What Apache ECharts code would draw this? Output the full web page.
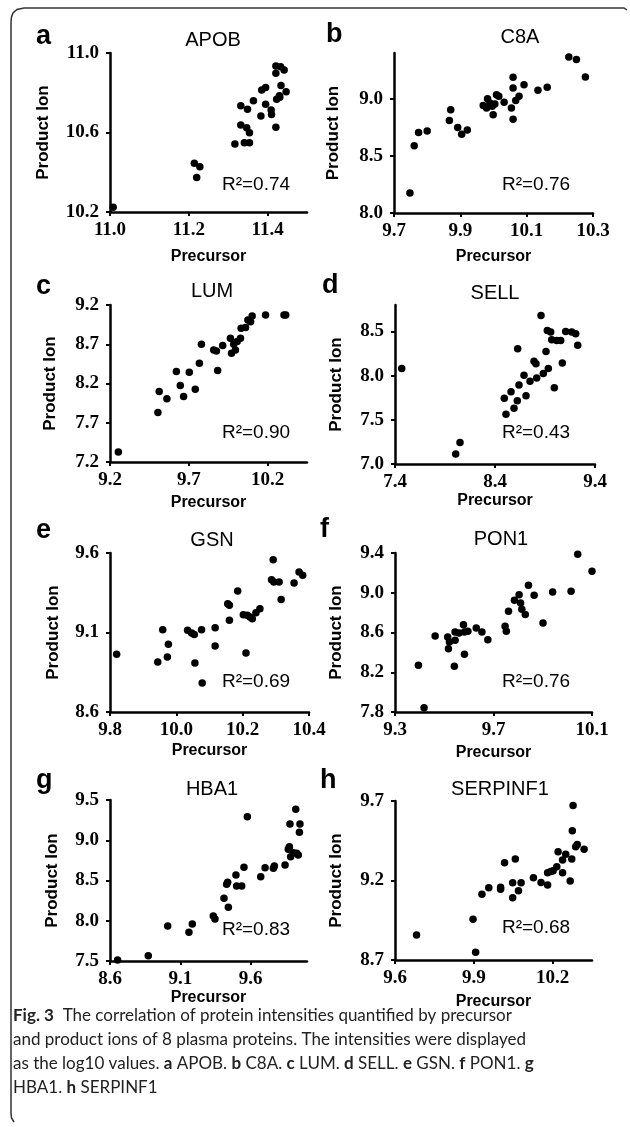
<!DOCTYPE html>
<html>
<head>
    <meta http-equiv="Content-Type" content="text/html; charset=utf-8"/>
    <script src="https://cdn.jsdelivr.net/npm/echarts@6/dist/echarts.min.js"></script>
    <style>
        html, body {margin: 0; padding: 0; background: #fff;}
        #main {width: 630px; height: 1127px;}
    </style>
</head>
<body>
<div id="main"></div>
<script type="text/javascript">

    // protein names, panel letters and R2 labels
    var proteins = ['APOB', 'C8A', 'LUM', 'SELL', 'GSN', 'PON1', 'HBA1', 'SERPINF1'];
    var letters = ['a', 'b', 'c', 'd', 'e', 'f', 'g', 'h'];
    var r2 = ['0.74', '0.76', '0.90', '0.43', '0.69', '0.76', '0.83', '0.68'];

    // [precursor, product ion] (log10 intensities)
    var apobPoints = [[11.008, 10.224], [11.214, 10.445], [11.228, 10.428], [11.220, 10.374], [11.317, 10.542],
        [11.341, 10.549], [11.354, 10.549], [11.332, 10.638], [11.347, 10.624], [11.332, 10.734], [11.349, 10.717],
        [11.364, 10.760], [11.354, 10.599], [11.383, 10.683], [11.395, 10.742], [11.385, 10.814], [11.395, 10.827],
        [11.409, 10.713], [11.410, 10.691], [11.421, 10.626], [11.423, 10.767], [11.431, 10.777], [11.434, 10.836],
        [11.447, 10.805], [11.421, 10.898], [11.421, 10.935], [11.433, 10.931], [11.442, 10.914], [11.430, 10.785]];
    var c8aPoints = [[9.748, 8.176], [9.761, 8.589], [9.774, 8.704], [9.800, 8.718], [9.867, 8.809], [9.871, 8.903],
        [9.892, 8.748], [9.904, 8.689], [9.921, 8.727], [9.969, 8.941], [9.982, 9.000], [9.979, 8.918], [9.989, 8.962],
        [9.996, 8.933], [9.999, 8.859], [10.004, 8.953], [10.009, 9.035], [10.016, 9.021], [10.032, 8.968],
        [10.054, 8.918], [10.059, 9.188], [10.059, 9.094], [10.059, 8.821], [10.067, 8.985], [10.077, 9.021],
        [10.092, 9.123], [10.134, 9.073], [10.162, 9.100], [10.227, 9.364], [10.250, 9.343], [10.277, 9.191]];
    var lumPoints = [[9.253, 7.327], [9.504, 7.831], [9.512, 8.098], [9.561, 8.005], [9.621, 8.353], [9.646, 8.175],
        [9.667, 8.035], [9.703, 8.344], [9.741, 8.128], [9.767, 8.458], [9.780, 8.700], [9.858, 8.628], [9.875, 8.615],
        [9.883, 8.365], [9.915, 8.683], [9.964, 8.776], [9.971, 8.586], [9.996, 8.628], [10.007, 8.734],
        [10.028, 8.776], [10.032, 8.903], [10.060, 8.912], [10.075, 9.009], [10.092, 8.988], [10.102, 9.060],
        [10.187, 9.073], [10.304, 9.073], [10.315, 9.073], [9.985, 8.700]];
    var sellPoints = [[7.467, 8.080], [8.007, 7.113], [8.050, 7.244], [8.493, 7.743], [8.510, 7.563], [8.560, 7.818],
        [8.590, 7.630], [8.623, 7.716], [8.627, 8.305], [8.640, 7.893], [8.690, 8.005], [8.710, 7.773], [8.750, 7.938],
        [8.790, 8.163], [8.810, 8.136], [8.817, 7.975], [8.860, 8.680], [8.883, 8.024], [8.910, 8.275], [8.923, 8.511],
        [8.933, 8.080], [8.957, 8.493], [8.967, 8.406], [8.993, 7.863], [9.017, 8.399], [9.057, 8.399], [9.073, 8.144],
        [9.107, 8.500], [9.167, 8.493], [9.207, 8.474], [9.227, 8.343]];
    var gsnPoints = [[9.820, 8.963], [9.944, 8.914], [9.959, 9.118], [9.973, 8.946], [9.976, 9.026], [10.034, 9.114],
        [10.046, 9.097], [10.054, 9.088], [10.056, 8.908], [10.076, 9.118], [10.078, 8.782], [10.117, 9.130],
        [10.117, 9.015], [10.155, 9.281], [10.160, 9.271], [10.160, 9.177], [10.185, 9.361], [10.202, 9.212],
        [10.210, 8.971], [10.214, 9.208], [10.222, 9.197], [10.229, 9.187], [10.240, 9.225], [10.252, 9.250],
        [10.292, 9.558], [10.287, 9.432], [10.294, 9.418], [10.310, 9.418], [10.316, 9.307], [10.355, 9.411],
        [10.370, 9.481], [10.381, 9.460]];
    var pon1Points = [[9.395, 8.270], [9.418, 7.844], [9.463, 8.565], [9.514, 8.555], [9.517, 8.437], [9.521, 8.504],
        [9.541, 8.260], [9.544, 8.521], [9.544, 8.605], [9.560, 8.595], [9.578, 8.679], [9.582, 8.380], [9.582, 8.605],
        [9.596, 8.612], [9.630, 8.645], [9.653, 8.605], [9.677, 8.528], [9.747, 8.662], [9.752, 8.612], [9.761, 8.813],
        [9.785, 8.924], [9.804, 8.981], [9.810, 8.897], [9.815, 8.833], [9.829, 8.780], [9.842, 9.075], [9.865, 8.974],
        [9.901, 8.696], [9.940, 9.008], [10.015, 9.014], [10.042, 9.387], [10.100, 9.216]];
    var hba1Points = [[8.654, 7.512], [8.872, 7.566], [9.010, 7.935], [9.161, 7.856], [9.185, 7.960], [9.334, 8.059],
        [9.346, 8.022], [9.410, 8.278], [9.429, 8.452], [9.441, 8.167], [9.436, 8.477], [9.495, 8.568], [9.500, 8.432],
        [9.536, 8.432], [9.552, 8.664], [9.576, 9.293], [9.671, 8.548], [9.702, 8.659], [9.761, 8.651], [9.768, 8.680],
        [9.844, 8.692], [9.867, 8.887], [9.875, 8.920], [9.879, 9.202], [9.884, 8.796], [9.903, 8.846], [9.920, 9.384],
        [9.927, 8.837], [9.938, 8.817], [9.946, 9.098], [9.950, 9.202]];
    var serpinf1Points = [[9.682, 8.857], [9.897, 8.956], [9.907, 8.748], [9.931, 9.113], [9.957, 9.155],
        [10.002, 9.157], [10.002, 9.145], [10.017, 9.312], [10.048, 9.092], [10.048, 9.186], [10.058, 9.335],
        [10.070, 9.136], [10.080, 9.186], [10.127, 9.218], [10.156, 9.188], [10.181, 9.172], [10.181, 9.249],
        [10.193, 9.256], [10.202, 9.262], [10.216, 9.287], [10.221, 9.381], [10.238, 9.249], [10.238, 9.329],
        [10.250, 9.365], [10.267, 9.197], [10.273, 9.335], [10.275, 9.513], [10.278, 9.671], [10.288, 9.413],
        [10.294, 9.427], [10.320, 9.396]];

    // axis ranges and tick labels
    var xRanges = [[11.0, 11.5], [9.7, 10.3], [9.2, 10.45], [7.4, 9.4], [9.8, 10.4], [9.3, 10.1], [8.6, 10.0], [9.6, 10.35]];
    var yRanges = [[10.2, 11.0], [8.0, 9.4], [7.2, 9.2], [7.0, 8.8], [8.6, 9.6], [7.8, 9.4], [7.5, 9.5], [8.7, 9.7]];
    var xTicks = [[11.0, 11.2, 11.4], [9.7, 9.9, 10.1, 10.3], [9.2, 9.7, 10.2], [7.4, 8.4, 9.4],
        [9.8, 10.0, 10.2, 10.4], [9.3, 9.7, 10.1], [8.6, 9.1, 9.6], [9.6, 9.9, 10.2]];
    var yTicks = [[10.2, 10.6, 11.0], [8.0, 8.5, 9.0], [7.2, 7.7, 8.2, 8.7, 9.2], [7.0, 7.5, 8.0, 8.5],
        [8.6, 9.1, 9.6], [7.8, 8.2, 8.6, 9.0, 9.4], [7.5, 8.0, 8.5, 9.0, 9.5], [8.7, 9.2, 9.7]];

    var allPoints = [apobPoints, c8aPoints, lumPoints, sellPoints, gsnPoints, pon1Points, hba1Points, serpinf1Points];

    // panel placement (px): grid box, axis name gaps, title / letter / R2 text positions
    var boxes = [
        {left: 110, top: 53, width: 197, height: 159, gx: 37, gy: 58, title: [213, 40], letter: [36, 37], r: [256, 185]},
        {left: 394, top: 53, width: 199, height: 160, gx: 36, gy: 52, title: [520, 37], letter: [326, 35], r: [536, 185]},
        {left: 110, top: 305, width: 197, height: 157, gx: 33, gy: 51, title: [212, 291], letter: [36, 287], r: [256, 433]},
        {left: 395, top: 305, width: 200, height: 159, gx: 27, gy: 50, title: [495, 293], letter: [322, 286], r: [536, 433]},
        {left: 110, top: 553, width: 199, height: 159, gx: 31, gy: 48, title: [212, 540], letter: [36, 531], r: [256, 682]},
        {left: 395, top: 553, width: 197, height: 159, gx: 33, gy: 50, title: [501, 539], letter: [320, 530], r: [536, 682]},
        {left: 110, top: 800, width: 197, height: 161, gx: 22, gy: 49, title: [212, 789], letter: [36, 781], r: [256, 930]},
        {left: 395, top: 801, width: 197, height: 159, gx: 34, gy: 50, title: [500, 789], letter: [320, 781], r: [536, 928]}
    ];

    var tickFont = {fontFamily: 'Liberation Serif', fontWeight: 'bold', fontSize: 19, color: '#000'};
    var nameFont = {fontFamily: 'Liberation Sans', fontWeight: 'bold', fontSize: 16, color: '#000'};
    var fmt = function (v) { return Number(v).toFixed(1); };

    var grids = [], xAxes = [], yAxes = [], series = [], graphics = [];

    for (var i = 0; i < 8; i++) {
        var b = boxes[i];
        grids.push({left: b.left, top: b.top, width: b.width, height: b.height});

        xAxes.push({
            gridIndex: i, type: 'value', min: xRanges[i][0], max: xRanges[i][1],
            name: 'Precursor', nameLocation: 'middle', nameGap: b.gx, nameTextStyle: nameFont,
            axisLine: {show: true, onZero: false, lineStyle: {color: '#000', width: 2.5}},
            axisTick: {show: true, length: 4, lineStyle: {color: '#000', width: 2}, customValues: xTicks[i]},
            axisLabel: Object.assign({customValues: xTicks[i], formatter: fmt, margin: 9}, tickFont),
            splitLine: {show: false}
        });
        yAxes.push({
            gridIndex: i, type: 'value', min: yRanges[i][0], max: yRanges[i][1],
            name: 'Product Ion', nameLocation: 'middle', nameGap: b.gy,
            nameTextStyle: Object.assign({}, nameFont, {fontSize: 17}),
            axisLine: {show: true, onZero: false, lineStyle: {color: '#000', width: 2.5}},
            axisTick: {show: true, length: 4, lineStyle: {color: '#000', width: 2}, customValues: yTicks[i]},
            axisLabel: Object.assign({customValues: yTicks[i], formatter: fmt, margin: 11}, tickFont),
            splitLine: {show: false}
        });
        series.push({
            type: 'scatter', xAxisIndex: i, yAxisIndex: i, data: allPoints[i],
            symbol: 'circle', symbolSize: 7.5, itemStyle: {color: '#000', opacity: 1}, silent: true
        });

        graphics.push({
            type: 'text', x: b.title[0], y: b.title[1],
            style: {text: proteins[i], textAlign: 'center', textVerticalAlign: 'middle',
                fontFamily: 'Liberation Sans', fontSize: 20, fill: '#000'}
        });
        graphics.push({
            type: 'text', x: b.letter[0], y: b.letter[1],
            style: {text: letters[i], textAlign: 'left', textVerticalAlign: 'middle',
                fontFamily: 'Liberation Sans', fontWeight: 'bold', fontSize: 27, fill: '#000'}
        });
        graphics.push({
            type: 'text', x: b.r[0], y: b.r[1],
            style: {text: 'R²=' + r2[i], textAlign: 'center', textVerticalAlign: 'middle',
                fontFamily: 'Liberation Sans', fontSize: 19, fill: '#000'}
        });
    }

    // frame round the figure (open on the right and at the bottom)
    graphics.push({
        type: 'polyline',
        shape: {points: [[627, 10], [624, 8], [24, 8], [17, 9.5], [13, 13], [11.5, 17], [11, 22],
            [11, 1113], [11.5, 1118], [14, 1122]]},
        style: {fill: null, stroke: '#333', lineWidth: 1.5}
    });

    // caption
    graphics.push({
        type: 'text', x: 13, y: 1004,
        style: {
            text: '{b|Fig. 3}  The correlation of protein intensities quantified by precursor\n' +
                'and product ions of 8 plasma proteins. The intensities were displayed\n' +
                'as the log10 values. {b|a} APOB. {b|b} C8A. {b|c} LUM. {b|d} SELL. {b|e} GSN. {b|f} PON1. {b|g}\n' +
                'HBA1. {b|h} SERPINF1',
            fontFamily: 'Lato', fontSize: 17, lineHeight: 24, fill: '#222',
            rich: {b: {fontFamily: 'Lato', fontWeight: 'bold', fontSize: 17, lineHeight: 24, fill: '#222'}}
        }
    });

    var chart = echarts.init(document.getElementById('main'));
    chart.setOption({
        backgroundColor: '#fff',
        animation: false,
        grid: grids,
        xAxis: xAxes,
        yAxis: yAxes,
        series: series,
        graphic: graphics
    });
</script>
</body>
</html>
